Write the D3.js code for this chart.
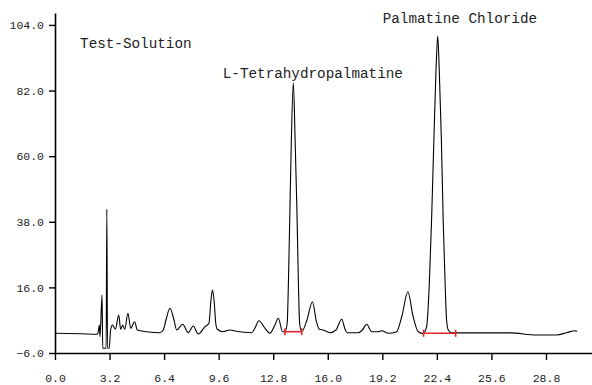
<!DOCTYPE html>
<html>
<head>
<meta charset="utf-8">
<script src="https://d3js.org/d3.v7.min.js"></script>
<style>
    body { margin: 0; background: #fff; }
    text { font-family: "Liberation Mono", "DejaVu Sans Mono", monospace; }
</style>
</head>
<body>
<div id="chromatogram"></div>
<script>

// retention time (min) and detector signal
const rtMin = [
    0.00, 1.50, 2.46, 2.52, 2.60, 2.64, 2.76, 2.80, 3.00, 3.04, 3.08, 3.18, 3.26, 3.38, 3.54,
    3.74, 3.85, 3.97, 4.09, 4.28, 4.44, 4.67, 4.83, 5.38, 6.16, 6.35, 6.51, 6.74, 6.98, 7.14,
    7.49, 7.82, 8.11, 8.40, 8.80, 9.03, 9.15, 9.24, 9.33, 9.43, 9.52, 9.87, 10.26, 10.56, 11.54,
    11.73, 11.96, 12.32, 12.61, 12.90, 13.10, 13.35, 13.49, 13.62, 13.70, 13.78, 13.86, 13.98, 14.09,
    14.19, 14.27, 14.35, 14.47, 14.78, 15.10, 15.34, 15.51, 15.74, 16.13, 16.48, 16.82, 17.01, 17.13,
    17.79, 18.03, 18.28, 18.58, 18.96, 19.16, 19.55, 20.04, 20.35, 20.70, 21.00, 21.31, 21.60, 21.80,
    21.95, 22.09, 22.23, 22.35, 22.45, 22.54, 22.66, 22.77, 22.89, 22.97, 23.07, 23.27, 24.50, 26.69,
    28.25, 29.42, 30.01, 30.50, 30.63
]
const signal = [
    0.61, 0.45, 0.27, 0.61, 3.39, -0.53, 13.45, -4.42, -4.42, 42.19, -4.42, -4.42, 1.71, 3.39, 1.95,
    6.74, 1.95, 3.39, 1.95, 7.31, 2.28, 4.50, 1.71, 1.14, 0.81, 1.71, 5.07, 8.99, 5.07, 1.71,
    3.62, 0.81, 3.05, 0.37, 2.82, 3.96, 11.77, 15.13, 11.77, 3.96, 1.95, 1.14, 1.71, 1.38, 0.81,
    2.38, 4.83, 2.28, 0.61, 3.39, 5.64, 1.14, 1.14, 3.96, 19.6, 41.95, 64.3, 84.6, 64.3,
    41.95, 19.6, 3.96, 1.14, 5.07, 11.2, 4.40, 1.95, 1.71, 0.81, 1.71, 5.30, 2.05, 0.81,
    0.81, 1.71, 3.62, 1.14, 1.14, 1.48, 0.61, 1.14, 6.41, 14.56, 6.41, 1.14, 0.54, 2.82,
    16.2, 38.6, 66.5, 88.9, 100.3, 88.9, 66.5, 38.6, 16.2, 5.07, 1.71, 0.75, 0.75, 0.75,
    0.04, 0.04, 0.81, 1.48, 1.28
]

// integration baselines drawn under the two marked peaks
const baseStart = [13.49, 21.62]
const baseEnd = [14.47, 23.50]
const baseLevel = [1.14, 0.61]

// peak labels and where they sit (time, signal)
const labelText = ["Test-Solution", "L-Tetrahydropalmatine", "Palmatine Chloride"]
const labelTime = [1.47, 9.84, 19.22]
const labelValue = [96.3, 86.2, 104.6]

const xTicks = [0.0, 3.2, 6.4, 9.6, 12.8, 16.0, 19.2, 22.4, 25.6, 28.8]
const yTicks = [-6.0, 16.0, 38.0, 60.0, 82.0, 104.0]

var width = 592,
    height = 385

var svg = d3.select("#chromatogram")
    .append("svg")
    .attr("width", width)
    .attr("height", height)

var x = d3.scaleLinear()
    .domain([0, 31.5])
    .range([55, 592])

var y = d3.scaleLinear()
    .domain([-6, 108])
    .range([353, 13])

// axes
var xAxis = svg.append("g")
    .attr("transform", "translate(0," + y(-6) + ")")
    .call(d3.axisBottom(x)
        .tickValues(xTicks)
        .tickFormat(d3.format(".1f"))
        .tickSizeInner(7)
        .tickSizeOuter(0)
        .tickPadding(14))

var yAxis = svg.append("g")
    .attr("transform", "translate(" + x(0) + ",0)")
    .call(d3.axisLeft(y)
        .tickValues(yTicks)
        .tickFormat(d3.format(".1f"))
        .tickSizeInner(6)
        .tickSizeOuter(0)
        .tickPadding(5))

svg.selectAll(".domain").attr("stroke", "#000").attr("stroke-width", 1.6)
svg.selectAll(".tick line").attr("stroke", "#000").attr("stroke-width", 1.4)
svg.selectAll(".tick text")
    .attr("fill", "#222")
    .style("font-size", "11.5px")
    .style("font-family", "'Liberation Mono', monospace")

// the trace
var points = rtMin.map((t, i) => [t, signal[i]])

var line = d3.line()
    .x(d => x(d[0]))
    .y(d => y(d[1]))
    .curve(d3.curveMonotoneX)

svg.append("path")
    .datum(points)
    .attr("d", line)
    .attr("fill", "none")
    .attr("stroke", "#000")
    .attr("stroke-width", 1.1)
    .attr("stroke-linejoin", "round")

// red integration marks with end caps
var marks = baseStart.map((s, i) => ({start: s, end: baseEnd[i], level: baseLevel[i]}))

var markG = svg.append("g")
    .attr("stroke", "#e8262a")
    .attr("stroke-width", 1.6)

markG.selectAll("baseLines")
    .data(marks)
    .enter()
    .append("line")
    .attr("x1", d => x(d.start))
    .attr("x2", d => x(d.end))
    .attr("y1", d => y(d.level))
    .attr("y2", d => y(d.level))

markG.selectAll("baseCaps")
    .data(marks.flatMap(d => [{t: d.start, level: d.level}, {t: d.end, level: d.level}]))
    .enter()
    .append("line")
    .attr("x1", d => x(d.t))
    .attr("x2", d => x(d.t))
    .attr("y1", d => y(d.level) - 3.5)
    .attr("y2", d => y(d.level) + 3.5)

// peak labels
svg.selectAll("peakLabels")
    .data(labelText)
    .enter()
    .append("text")
    .attr("x", (d, i) => x(labelTime[i]))
    .attr("y", (d, i) => y(labelValue[i]))
    .text(d => d)
    .attr("fill", "#222")
    .style("font-size", "14.3px")

</script>
</body>
</html>
